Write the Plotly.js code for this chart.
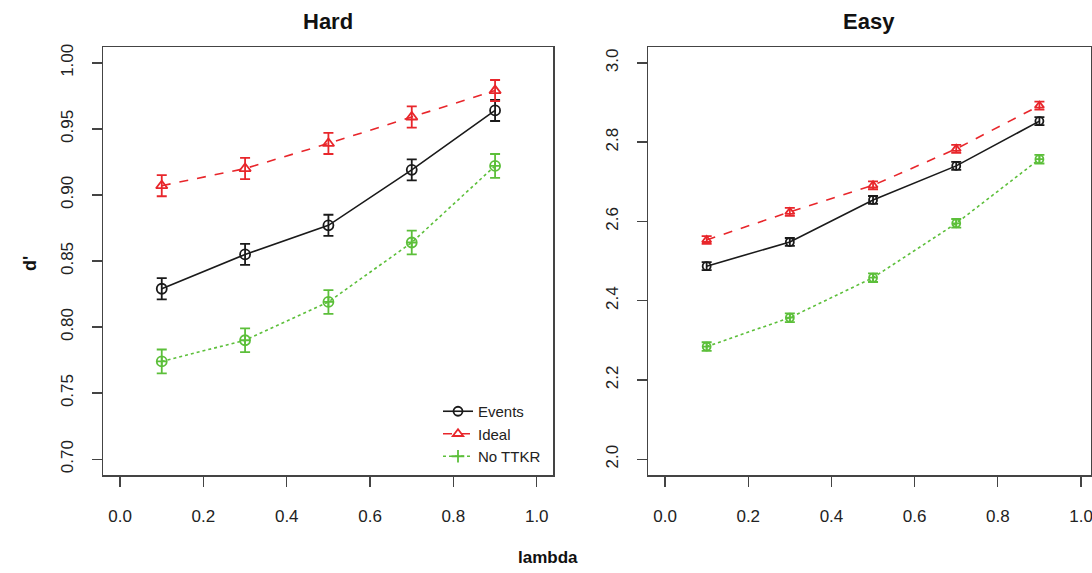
<!DOCTYPE html>
<html>
<head>
<meta charset="utf-8">
<script src="https://cdn.plot.ly/plotly-3.0.1.min.js"></script>
<style>html,body{margin:0;padding:0;background:#fff;}#chart{width:1092px;height:573px;}</style>
</head>
<body>
<div id="chart"></div>
<script>
// ---- data ----
const lambda = [0.1, 0.3, 0.5, 0.7, 0.9];
const seriesNames = ["Events", "Ideal", "No TTKR"];

const hardEvents = [0.829, 0.855, 0.877, 0.919, 0.964];
const hardIdeal  = [0.907, 0.920, 0.939, 0.959, 0.979];
const hardNoTTKR = [0.774, 0.790, 0.819, 0.864, 0.922];
const hardEventsErr = [0.008, 0.008, 0.008, 0.008, 0.008];
const hardIdealErr  = [0.008, 0.008, 0.008, 0.008, 0.008];
const hardNoTTKRErr = [0.009, 0.009, 0.009, 0.009, 0.009];

const easyEvents = [2.487, 2.548, 2.654, 2.740, 2.853];
const easyIdeal  = [2.553, 2.624, 2.691, 2.783, 2.892];
const easyNoTTKR = [2.284, 2.357, 2.458, 2.595, 2.757];
const easyEventsErr = [0.010, 0.010, 0.010, 0.010, 0.010];
const easyIdealErr  = [0.010, 0.010, 0.010, 0.010, 0.010];
const easyNoTTKRErr = [0.011, 0.011, 0.011, 0.011, 0.011];

const xTicks = [0.0, 0.2, 0.4, 0.6, 0.8, 1.0];
const xTickText = ["0.0", "0.2", "0.4", "0.6", "0.8", "1.0"];
const hardYTicks = [0.70, 0.75, 0.80, 0.85, 0.90, 0.95, 1.00];
const hardYTickText = ["0.70", "0.75", "0.80", "0.85", "0.90", "0.95", "1.00"];
const easyYTicks = [2.0, 2.2, 2.4, 2.6, 2.8, 3.0];
const easyYTickText = ["2.0", "2.2", "2.4", "2.6", "2.8", "3.0"];

// ---- styles ----
const FONT = "Liberation Sans, Arial, Helvetica, sans-serif";
const colors = ["#1a1a1a", "#e8262b", "#5cbf3a"];
const dashes = ["solid", "dash", "dot"];
const symbols = ["circle-open", "triangle-up-open", "circle-cross-open"];
const legendSymbols = ["circle-open", "triangle-up-open", "cross-thin-open"];

function series(x, y, err, i, xa, ya, size) {
  return {
    x: x, y: y, xaxis: xa, yaxis: ya, type: "scatter", mode: "lines+markers",
    name: seriesNames[i], showlegend: false,
    line: {color: colors[i], width: 1.6, dash: dashes[i]},
    marker: {symbol: symbols[i], size: size, color: colors[i], line: {width: 1.8, color: colors[i]}},
    error_y: {type: "data", array: err, visible: true, color: colors[i], thickness: 1.8, width: 5}
  };
}

const traces = [
  series(lambda, hardEvents, hardEventsErr, 0, "x", "y", 10),
  series(lambda, hardIdeal, hardIdealErr, 1, "x", "y", 10),
  series(lambda, hardNoTTKR, hardNoTTKRErr, 2, "x", "y", 10),
  series(lambda, easyEvents, easyEventsErr, 0, "x2", "y2", 8),
  series(lambda, easyIdeal, easyIdealErr, 1, "x2", "y2", 8),
  series(lambda, easyNoTTKR, easyNoTTKRErr, 2, "x2", "y2", 8)
];
// legend-only entries
for (let i = 0; i < 3; i++) {
  traces.push({
    x: [null], y: [null], xaxis: "x", yaxis: "y", type: "scatter", mode: "lines+markers",
    name: seriesNames[i], showlegend: true,
    line: {color: colors[i], width: 1.6, dash: dashes[i]},
    marker: {symbol: legendSymbols[i], size: 9, color: colors[i], line: {width: 1.8, color: colors[i]}}
  });
}

const W = 1092, H = 573;
const axCommon = {
  showline: true, linecolor: "#444", linewidth: 1.5, mirror: true,
  showgrid: false, zeroline: false, ticks: "outside", ticklen: 10, tickwidth: 1.3, tickcolor: "#444",
  tickfont: {family: FONT, size: 17, color: "#222"}, tickmode: "array", ticklabeloverflow: "allow"
};

const layout = {
  width: W, height: H, margin: {l: 0, r: 0, t: 0, b: 0},
  paper_bgcolor: "#fff", plot_bgcolor: "#fff",
  font: {family: FONT, color: "#222"},
  xaxis: Object.assign({}, axCommon, {domain: [103 / W, 553 / W], range: [-0.041, 1.039], tickvals: xTicks, ticktext: xTickText, anchor: "y", ticklabelstandoff: 15}),
  yaxis: Object.assign({}, axCommon, {domain: [1 - 475 / H, 1 - 47 / H], range: [0.688, 1.012], tickvals: hardYTicks, ticktext: hardYTickText, tickangle: -90, anchor: "x", ticklabelstandoff: 12}),
  xaxis2: Object.assign({}, axCommon, {domain: [648 / W, 1091 / W], range: [-0.041, 1.024], tickvals: xTicks, ticktext: xTickText, anchor: "y2", ticklabelstandoff: 15}),
  yaxis2: Object.assign({}, axCommon, {domain: [1 - 475 / H, 1 - 47 / H], range: [1.96, 3.04], tickvals: easyYTicks, ticktext: easyYTickText, tickangle: -90, anchor: "x2", ticklabelstandoff: 12}),
  showlegend: true,
  legend: {x: 546 / W, xanchor: "right", y: 1 - 473 / H, yanchor: "bottom", bgcolor: "rgba(0,0,0,0)",
           font: {family: FONT, size: 15, color: "#222"}, tracegroupgap: 0, itemwidth: 30},
  annotations: [
    {text: "<b>Hard</b>", x: 328 / W, y: 1 - 22 / H, xref: "paper", yref: "paper", showarrow: false, xanchor: "center", yanchor: "middle", font: {family: FONT, size: 22, color: "#111"}},
    {text: "<b>Easy</b>", x: 869 / W, y: 1 - 22 / H, xref: "paper", yref: "paper", showarrow: false, xanchor: "center", yanchor: "middle", font: {family: FONT, size: 22, color: "#111"}},
    {text: "<b>lambda</b>", x: 548 / W, y: 1 - 557 / H, xref: "paper", yref: "paper", showarrow: false, xanchor: "center", yanchor: "middle", font: {family: FONT, size: 17, color: "#111"}},
    {text: "<b>d'</b>", x: 30 / W, y: 1 - 264 / H, xref: "paper", yref: "paper", showarrow: false, xanchor: "center", yanchor: "middle", textangle: -90, font: {family: FONT, size: 18, color: "#111"}}
  ]
};

Plotly.newPlot("chart", traces, layout, {displayModeBar: false, staticPlot: true});
</script>
</body>
</html>
